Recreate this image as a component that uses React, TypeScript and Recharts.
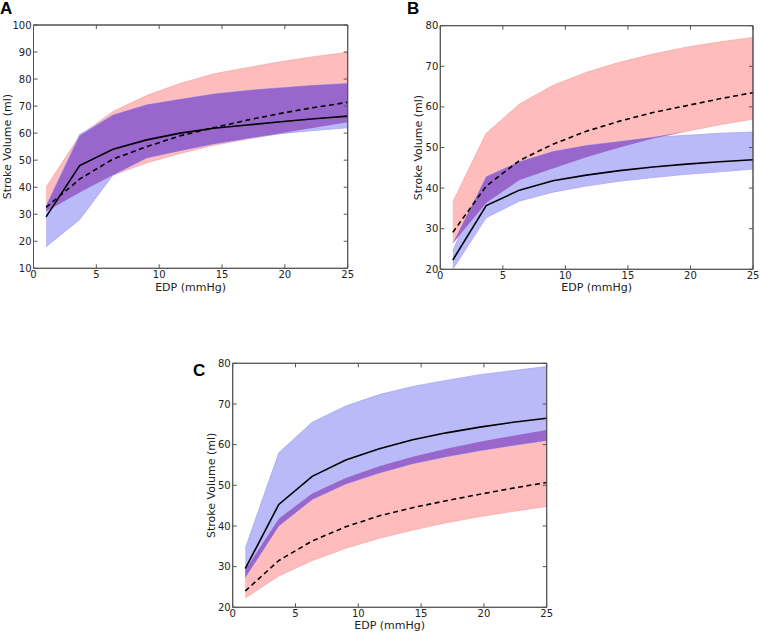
import { ComposedChart, Area, Line, XAxis, YAxis, ReferenceArea } from 'recharts';

// EDP sample points (mmHg)
const edp = [1, 3.67, 6.33, 9, 11.67, 14.33, 17, 19.67, 22.33, 25];

// Panel A
const aRedLo = [31, 38, 44.5, 49, 52.5, 55.5, 57.8, 60, 62, 64];
const aRedHi = [40, 59, 68, 73.9, 78.4, 81.9, 84.2, 86.4, 88.3, 89.9];
const aBlueLo = [18, 28, 44.5, 50.8, 53.5, 56, 58, 59.8, 61, 62];
const aBlueHi = [33, 59.5, 66.7, 70.5, 72.5, 74.5, 75.8, 76.8, 77.7, 78.4];
const aSolid = [29, 48, 54, 57.5, 60, 61.8, 63, 64.2, 65.3, 66.3];
const aDashed = [32.5, 43, 50.4, 55, 59, 62, 64.8, 67.3, 69.5, 71.4];

// Panel B
const bRedLo = [26.4, 36.3, 42, 44.8, 47.6, 50, 52.2, 54, 55.6, 57];
const bRedHi = [36.6, 53.5, 60.7, 65.3, 68.5, 71, 73, 74.7, 76, 77.1];
const bBlueLo = [20, 32.7, 36.8, 39, 40.5, 41.7, 42.6, 43.4, 44, 44.7];
const bBlueHi = [24.6, 42.8, 46.5, 49, 50.5, 51.5, 52.5, 53, 53.5, 53.8];
const bSolid = [22.3, 35.7, 39.5, 41.8, 43.2, 44.3, 45.2, 45.9, 46.5, 47];
const bDashed = [29.1, 40.5, 46.8, 50.8, 54, 56.5, 58.6, 60.3, 62, 63.5];

// Panel C
const cRedLo = [22.3, 27.7, 31.5, 34.5, 37, 39, 40.8, 42.3, 43.6, 44.8];
const cRedHi = [29.2, 41.8, 48, 51.8, 54.7, 57, 59, 60.7, 62.2, 63.6];
const cBlueLo = [27.3, 40, 46.5, 50.3, 53, 55.3, 57, 58.5, 59.8, 61];
const cBlueHi = [34.5, 58, 65.5, 69.5, 72.3, 74.3, 75.8, 77.2, 78.2, 79.2];
const cSolid = [29.5, 45.3, 52.2, 56.2, 59, 61.2, 62.9, 64.3, 65.5, 66.5];
const cDashed = [24, 31.5, 36.3, 39.8, 42.5, 44.5, 46.2, 47.8, 49.3, 50.7];

const xTicks = [0, 5, 10, 15, 20, 25];
const aYTicks = [10, 20, 30, 40, 50, 60, 70, 80, 90, 100];
const bYTicks = [20, 30, 40, 50, 60, 70, 80];
const cYTicks = [20, 30, 40, 50, 60, 70, 80];

const RED = '#ffbcbc';
const BLUE = '#babaf8';
const PURPLE = '#9966cc';
const FRAME = '#555';
const FONT = 'DejaVu Sans, sans-serif';

function buildRows(redLo: number[], redHi: number[], blueLo: number[], blueHi: number[], solid: number[], dashed: number[]) {
  return edp.map((x, i) => {
    const lo = Math.max(redLo[i], blueLo[i]);
    const hi = Math.min(redHi[i], blueHi[i]);
    return {
      x,
      red: [redLo[i], redHi[i]],
      blue: [blueLo[i], blueHi[i]],
      both: hi >= lo ? [lo, hi] : [lo, lo],
      solid: solid[i],
      dashed: dashed[i],
    };
  });
}

type PanelProps = {
  letter: string;
  rows: ReturnType<typeof buildRows>;
  yDomain: [number, number];
  yTicks: number[];
  left: number;
  top: number;
  width: number;
  height: number;
  marginTop: number;
  marginRight: number;
  yAxisWidth: number;
  xAxisHeight: number;
  yLabelOffset: number;
  xLabelOffset: number;
  letterX: number;
  letterY: number;
};

const tickStyle = { fontSize: 10, fill: '#222', fontFamily: FONT };
const blank = () => '';

function Panel(p: PanelProps) {
  return (
    <div style={{ position: 'absolute', left: p.left, top: p.top, width: p.width, height: p.height }}>
      <div
        style={{
          position: 'absolute',
          left: p.letterX,
          top: p.letterY,
          fontFamily: 'Liberation Sans, Arial, sans-serif',
          fontWeight: 'bold',
          fontSize: 17,
          lineHeight: '17px',
          color: '#000',
          zIndex: 2,
        }}
      >
        {p.letter}
      </div>
      <ComposedChart
        width={p.width}
        height={p.height}
        data={p.rows}
        margin={{ top: p.marginTop - 1, right: p.marginRight - 1, left: 0, bottom: 0 }}
      >
        <XAxis
          dataKey="x"
          type="number"
          domain={[0, 25]}
          ticks={xTicks}
          allowDataOverflow
          height={p.xAxisHeight}
          tickSize={-4}
          tickMargin={7}
          tick={tickStyle}
          stroke={FRAME}
          label={{
            value: 'EDP (mmHg)',
            position: 'insideBottom',
            offset: p.xLabelOffset,
            style: { fontSize: 11, fill: '#222', fontFamily: FONT },
          }}
        />
        <XAxis
          xAxisId="top"
          orientation="top"
          dataKey="x"
          type="number"
          domain={[0, 25]}
          ticks={xTicks}
          allowDataOverflow
          height={1}
          tickSize={-4}
          tickFormatter={blank}
          stroke={FRAME}
        />
        <YAxis
          type="number"
          domain={p.yDomain}
          ticks={p.yTicks}
          allowDataOverflow
          width={p.yAxisWidth}
          tickSize={-4}
          tickMargin={6}
          tick={tickStyle}
          stroke={FRAME}
          label={{
            value: 'Stroke Volume (ml)',
            angle: -90,
            position: 'insideLeft',
            offset: p.yLabelOffset,
            style: { fontSize: 11, fill: '#222', fontFamily: FONT, textAnchor: 'middle' },
          }}
        />
        <YAxis
          yAxisId="right"
          orientation="right"
          type="number"
          domain={p.yDomain}
          ticks={p.yTicks}
          allowDataOverflow
          width={1}
          tickSize={-4}
          tickFormatter={blank}
          stroke={FRAME}
        />
        <Area
          dataKey="red"
          type="linear"
          fill={RED}
          fillOpacity={1}
          stroke="#f5a8a8"
          strokeWidth={0.8}
          isAnimationActive={false}
          activeDot={false}
        />
        <Area
          dataKey="blue"
          type="linear"
          fill={BLUE}
          fillOpacity={1}
          stroke="#a8a8f0"
          strokeWidth={0.8}
          isAnimationActive={false}
          activeDot={false}
        />
        <Area
          dataKey="both"
          type="linear"
          fill={PURPLE}
          fillOpacity={1}
          stroke="none"
          isAnimationActive={false}
          activeDot={false}
        />
        <Line
          dataKey="dashed"
          xAxisId="top"
          yAxisId="right"
          type="linear"
          stroke="#000"
          strokeWidth={1.6}
          strokeDasharray="5 3.5"
          dot={false}
          activeDot={false}
          isAnimationActive={false}
        />
        <Line
          dataKey="solid"
          type="linear"
          stroke="#000"
          strokeWidth={1.6}
          dot={false}
          activeDot={false}
          isAnimationActive={false}
        />
        <ReferenceArea
          x1={0}
          x2={25}
          y1={p.yDomain[0]}
          y2={p.yDomain[1]}
          fill="none"
          fillOpacity={0}
          stroke={FRAME}
          strokeWidth={1}
        />
      </ComposedChart>
    </div>
  );
}

export default function App() {
  const rowsA = buildRows(aRedLo, aRedHi, aBlueLo, aBlueHi, aSolid, aDashed);
  const rowsB = buildRows(bRedLo, bRedHi, bBlueLo, bBlueHi, bSolid, bDashed);
  const rowsC = buildRows(cRedLo, cRedHi, cBlueLo, cBlueHi, cSolid, cDashed);
  return (
    <div style={{ position: 'absolute', left: 0, top: 0, width: 760, height: 632, background: '#fff', overflow: 'hidden' }}>
      <Panel
        letter="A"
        rows={rowsA}
        yDomain={[10, 100]}
        yTicks={aYTicks}
        left={0}
        top={0}
        width={360}
        height={300}
        marginTop={25}
        marginRight={12.3}
        yAxisWidth={33.5}
        xAxisHeight={31.7}
        yLabelOffset={7}
        xLabelOffset={9}
        letterX={0}
        letterY={0}
      />
      <Panel
        letter="B"
        rows={rowsB}
        yDomain={[20, 80]}
        yTicks={bYTicks}
        left={400}
        top={0}
        width={360}
        height={300}
        marginTop={25.7}
        marginRight={7}
        yAxisWidth={40.3}
        xAxisHeight={30.7}
        yLabelOffset={18}
        xLabelOffset={9}
        letterX={7}
        letterY={0}
      />
      <Panel
        letter="C"
        rows={rowsC}
        yDomain={[20, 80]}
        yTicks={cYTicks}
        left={190}
        top={300}
        width={370}
        height={332}
        marginTop={63.3}
        marginRight={13.3}
        yAxisWidth={42.7}
        xAxisHeight={24.7}
        yLabelOffset={20.7}
        xLabelOffset={3}
        letterX={3}
        letterY={62}
      />
    </div>
  );
}
